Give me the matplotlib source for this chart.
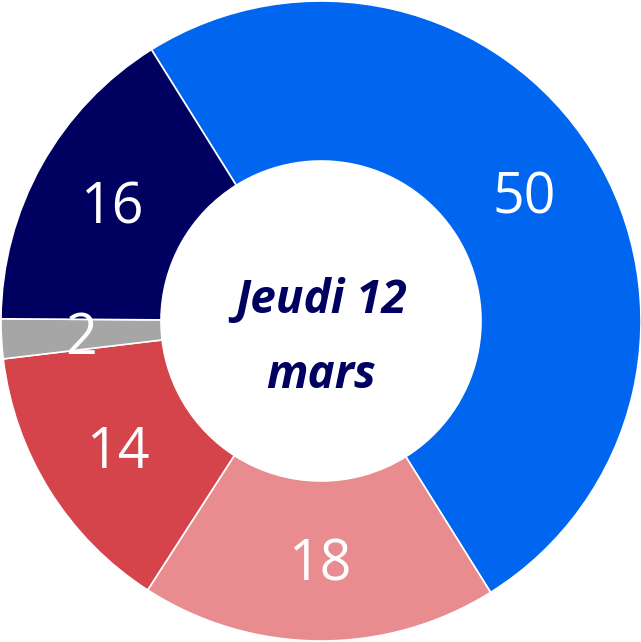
import matplotlib.pyplot as plt

values = [50, 18, 14, 2, 16]
labels = ["50", "18", "14", "2", "16"]
colors = ["#0066F0", "#E88C8F", "#D5444A", "#A6A6A6", "#000060"]
center_line1 = "Jeudi 12"
center_line2 = "mars"

fig = plt.figure(figsize=(6.41, 6.42), dpi=100)
ax = fig.add_axes([0, 0, 1, 1])

wedges, texts = ax.pie(values, labels=labels, colors=colors, startangle=122,
                       counterclock=False, radius=1.0, labeldistance=0.75,
                       wedgeprops=dict(width=0.5, edgecolor="white", linewidth=1.2),
                       textprops=dict(color="white", fontsize=40, family="Open Sans",
                                      ha="center", va="baseline"))
# put the digits' middle on the ring's middle
for t in texts:
    x, y = t.get_position()
    t.set_position((x, y - 0.061))

ax.text(0.0, 0.025, center_line1, ha="center", va="baseline", fontsize=33,
        fontweight="bold", fontstyle="italic", color="#000060", family="Open Sans")
ax.text(0.0, -0.209, center_line2, ha="center", va="baseline", fontsize=33,
        fontweight="bold", fontstyle="italic", color="#000060", family="Open Sans")

ax.set_aspect("auto")
ax.set_xlim(-321 / 320, 320 / 320)
ax.set_ylim(-321 / 320, 321 / 320)
ax.axis("off")

fig.savefig("out.png", dpi=100)
